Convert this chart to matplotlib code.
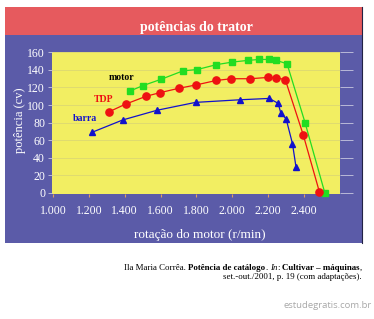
import matplotlib.pyplot as plt
from matplotlib.patches import Rectangle

# data
motor_x = [1430, 1500, 1605, 1725, 1805, 1910, 2000, 2090, 2150, 2205, 2245, 2305, 2405, 2515]
motor_y = [116, 122, 129.5, 139, 140.5, 146, 149, 151, 152, 152, 151, 147, 80, 0]
tdp_x = [1310, 1405, 1520, 1595, 1700, 1800, 1910, 1995, 2100, 2200, 2245, 2295, 2395, 2485]
tdp_y = [92, 101, 110, 114, 119, 123, 128, 130, 130, 131.5, 131, 129, 66, 1]
barra_x = [1220, 1390, 1580, 1795, 2045, 2205, 2255, 2270, 2300, 2335, 2355]
barra_y = [69, 83, 94, 103, 106, 107.5, 102, 91, 84, 56, 29]

x_ticks = [1000, 1200, 1400, 1600, 1800, 2000, 2200, 2400]
x_labels = ['1.000', '1.200', '1.400', '1.600', '1.800', '2.000', '2.200', '2.400']
y_ticks = [0, 20, 40, 60, 80, 100, 120, 140, 160]

W, H = 374, 319
serif = 'Liberation Serif'
panel_blue = '#5b5ba8'
band_red = '#e65a5e'
yellow = '#f2ee62'

fig = plt.figure(figsize=(W / 100, H / 100), dpi=100)
fig.patch.set_facecolor('white')


def fx(px):
    return px / W


def fy(py):
    return 1 - py / H


# blue panel and red title band
fig.patches.append(Rectangle((fx(5), fy(243)), fx(357), 236 / H,
                             transform=fig.transFigure, facecolor=panel_blue,
                             edgecolor='none', zorder=-2))
fig.patches.append(Rectangle((fx(5), fy(35)), fx(357), 28 / H,
                             transform=fig.transFigure, facecolor=band_red,
                             edgecolor='none', zorder=-1))
fig.lines.append(plt.Line2D([fx(362), fx(362)], [fy(243), fy(7)],
                            transform=fig.transFigure, color='#222244', lw=0.8))

fig.text(fx(196), fy(27), 'potências do trator', color='white', family=serif,
         fontsize=10, fontweight='bold', ha='center', va='center')

ax = fig.add_axes([fx(52), fy(193.5), fx(288), 141.5 / H])
ax.set_zorder(2)
ax.set_facecolor(yellow)
for s in ax.spines.values():
    s.set_visible(False)

for yv in y_ticks[1:]:
    ax.axhline(yv, color='#dcd872', lw=0.6, zorder=1)

ax.plot(motor_x, motor_y, color='#22dd22', lw=0.9, marker='s', ms=4,
        mec='#22dd22', zorder=3, clip_on=False)
ax.plot(tdp_x, tdp_y, color='#ee1111', lw=0.9, marker='o', ms=5.2,
        mec='#ee1111', zorder=3, clip_on=False)
ax.plot(barra_x, barra_y, color='#1111cc', lw=0.9, marker='^', ms=4.4,
        mec='#1111cc', zorder=3, clip_on=False)

ax.text(1383, 131, 'motor', color='black', family=serif, fontsize=7,
        fontweight='bold', ha='center', va='center')
ax.text(1283, 106, 'TDP', color='#ee1111', family=serif, fontsize=7,
        fontweight='bold', ha='center', va='center')
ax.text(1176, 85, 'barra', color='#1111cc', family=serif, fontsize=7,
        fontweight='bold', ha='center', va='center')

ax.set_xlim(995, 2600)
ax.set_ylim(-1, 160.5)
ax.set_xticks(x_ticks)
ax.set_xticklabels(x_labels)
ax.set_yticks(y_ticks)
ax.tick_params(axis='x', colors='#e0a060', length=2, width=0.8, pad=6,
               labelcolor='white', labelsize=8.5)
ax.tick_params(axis='y', colors='#c8c8e0', length=3, width=0.6, pad=2,
               labelcolor='white', labelsize=8.5, right=True)
for lab in ax.get_xticklabels() + ax.get_yticklabels():
    lab.set_family(serif)
# right side ticks longer
for t in ax.yaxis.get_major_ticks():
    t.tick2line.set_markersize(9)

fig.text(fx(20), fy(120), 'potência (cv)', color='white', family=serif,
         fontsize=9, rotation=90, ha='center', va='center')
fig.text(fx(200), fy(235), 'rotação do motor (r/min)', color='white',
         family=serif, fontsize=9.5, ha='center', va='center')

# caption with mixed styles, built left to right
renderer = fig.canvas.get_renderer()
pieces = [('Ila Maria Corrêa. ', 'normal', 'normal'),
          ('Potência de catálogo', 'bold', 'normal'),
          ('. ', 'normal', 'normal'),
          ('In', 'normal', 'italic'),
          (': ', 'normal', 'normal'),
          ('Cultivar – máquinas', 'bold', 'normal'),
          (',', 'normal', 'normal')]
texts = []
x = 0
for s, w, st in pieces:
    t = fig.text(x, fy(268), s, family=serif, fontsize=6.4, fontweight=w,
                 fontstyle=st, ha='left', va='center', color='black')
    texts.append(t)
    bb = t.get_window_extent(renderer)
    x = bb.x1 / W
total = x
shift = fx(362) - total
for t in texts:
    px, py = t.get_position()
    t.set_position((px + shift, py))

fig.text(fx(362), fy(277), 'set.-out./2001, p. 19 (com adaptações).',
         family=serif, fontsize=6.4, ha='right', va='center', color='black')

fig.text(fx(372), fy(305), 'estudegratis.com.br', family='Open Sans',
         fontsize=6.8, ha='right', va='center', color='#a8a8a8')

fig.savefig('out.png', dpi=100, facecolor='white')
